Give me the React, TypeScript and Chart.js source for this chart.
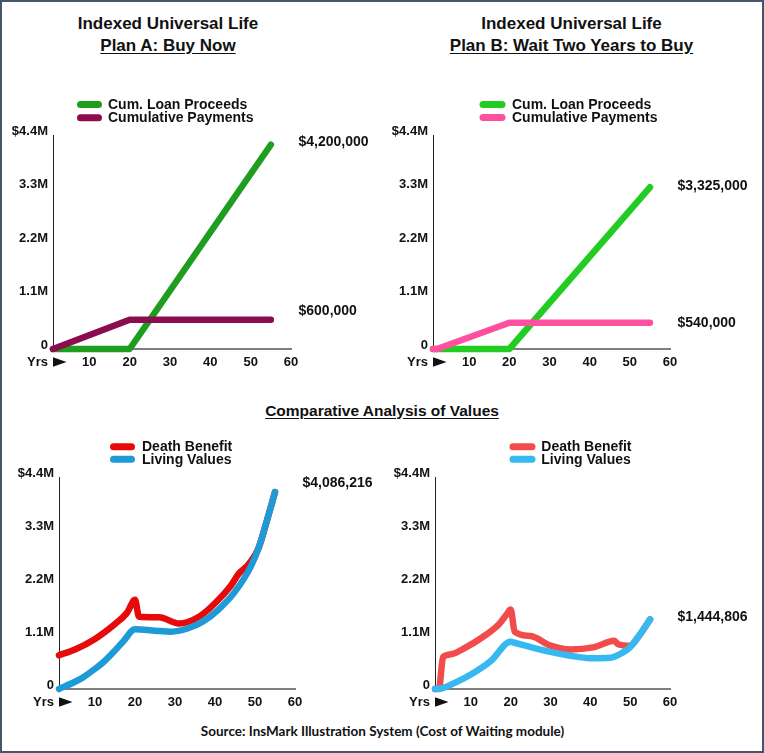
import React, { useEffect, useRef } from 'react';
import { Chart, registerables } from 'chart.js';

Chart.register(...registerables);

const FONT = "'Liberation Sans', Arial, sans-serif";
const TEXT = '#111111';

// ---- Text ----
const TITLE_MAIN = 'Indexed Universal Life';
const PLAN_A = 'Plan A: Buy Now';
const PLAN_B = 'Plan B: Wait Two Years to Buy';
const MID_TITLE = 'Comparative Analysis of Values';
const SOURCE = 'Source: InsMark Illustration System (Cost of Waiting module)';
const YRS_LABEL = 'Yrs';

// ---- Axes ----
const X_MIN = 1;
const X_MAX = 60;
const X_TICKS = [10, 20, 30, 40, 50, 60];
const Y_MAX = 4400000;
const Y_TICK_VALUES = [0, 1100000, 2200000, 3300000, 4400000];
const Y_TICK_LABELS = ['0', '1.1M', '2.2M', '3.3M', '$4.4M'];

// ---- Plan A: Buy Now ----
const A_LOAN_YEARS = [1, 20, 55];
const A_LOAN = [0, 0, 4200000];
const A_PAY_YEARS = [1, 20, 55];
const A_PAY = [0, 600000, 600000];

// ---- Plan B: Wait Two Years ----
const B_LOAN_YEARS = [1, 20, 55];
const B_LOAN = [0, 0, 3325000];
const B_PAY_YEARS = [1, 2, 20, 55];
const B_PAY = [0, 0, 540000, 540000];

// ---- Comparative: Plan A ----
const CA_DB_YEARS = [1, 5, 10, 15, 18, 20, 21, 26, 31, 36, 40, 44, 46, 48, 50, 51, 53, 55];
const CA_DB = [700000, 820000, 1040000, 1350000, 1580000, 1850000, 1500000, 1490000, 1360000, 1500000, 1780000, 2150000, 2400000, 2550000, 2780000, 2950000, 3500000, 4086216];
const CA_LV_YEARS = [1, 5, 7, 10, 12, 15, 17, 20, 25, 29, 33, 37, 41, 45, 49, 51, 53, 55];
const CA_LV = [0, 150000, 240000, 420000, 550000, 800000, 980000, 1240000, 1210000, 1190000, 1250000, 1400000, 1660000, 2020000, 2550000, 2950000, 3500000, 4086216];

// ---- Comparative: Plan B ----
const CB_DB_YEARS = [1, 2, 3, 5, 8, 13, 17, 19, 20, 21, 25, 30, 35, 41, 46, 47, 50, 52, 55];
const CB_DB = [0, 0, 660000, 720000, 830000, 1080000, 1340000, 1550000, 1650000, 1190000, 1100000, 900000, 820000, 870000, 1000000, 930000, 900000, 1080000, 1444806];
const CB_LV_YEARS = [1, 3, 5, 10, 15, 20, 21, 25, 30, 35, 40, 45, 48, 50, 52, 55];
const CB_LV = [0, 20000, 90000, 300000, 580000, 980000, 960000, 870000, 770000, 690000, 640000, 650000, 750000, 870000, 1080000, 1444806];

type Series = {
  label: string;
  years: number[];
  values: number[];
  color: string;
  endLabel: boolean;
  endDy: number;
};

type Panel = {
  key: string;
  left: number;
  top: number;
  width: number;
  height: number;
  area: { left: number; right: number; top: number; bottom: number };
  swatch: [number, number];
  legendTextX: number;
  legendRows: [number, number];
  smooth: boolean;
  lineWidth: number;
  series: Series[];
};

const PANELS: Panel[] = [
  {
    key: 'tl', left: 0, top: 80, width: 382, height: 300,
    area: { left: 53, right: 291, top: 55, bottom: 269 },
    swatch: [80.5, 98.5], legendTextX: 108, legendRows: [24.5, 37.7],
    smooth: false, lineWidth: 6.5,
    series: [
      { label: 'Cum. Loan Proceeds', years: A_LOAN_YEARS, values: A_LOAN, color: '#1f9d1f', endLabel: true, endDy: -3 },
      { label: 'Cumulative Payments', years: A_PAY_YEARS, values: A_PAY, color: '#8b0d4f', endLabel: true, endDy: -9 },
    ],
  },
  {
    key: 'tr', left: 382, top: 80, width: 382, height: 300,
    area: { left: 51, right: 288, top: 55, bottom: 269 },
    swatch: [101, 120], legendTextX: 130, legendRows: [24.5, 37.5],
    smooth: false, lineWidth: 6.5,
    series: [
      { label: 'Cum. Loan Proceeds', years: B_LOAN_YEARS, values: B_LOAN, color: '#22cc22', endLabel: true, endDy: -1 },
      { label: 'Cumulative Payments', years: B_PAY_YEARS, values: B_PAY, color: '#ff50a0', endLabel: true, endDy: 0 },
    ],
  },
  {
    key: 'bl', left: 0, top: 425, width: 382, height: 290,
    area: { left: 59, right: 295, top: 52, bottom: 264 },
    swatch: [113.5, 131.5], legendTextX: 142, legendRows: [21.7, 34.3],
    smooth: true, lineWidth: 6.5,
    series: [
      { label: 'Death Benefit', years: CA_DB_YEARS, values: CA_DB, color: '#e60a0a', endLabel: false, endDy: 0 },
      { label: 'Living Values', years: CA_LV_YEARS, values: CA_LV, color: '#1e9bd7', endLabel: true, endDy: -9 },
    ],
  },
  {
    key: 'br', left: 382, top: 425, width: 382, height: 290,
    area: { left: 53, right: 288, top: 52, bottom: 264 },
    swatch: [131, 150], legendTextX: 159.3, legendRows: [21.7, 34.3],
    smooth: true, lineWidth: 6.5,
    series: [
      { label: 'Death Benefit', years: CB_DB_YEARS, values: CB_DB, color: '#f24b4b', endLabel: false, endDy: 0 },
      { label: 'Living Values', years: CB_LV_YEARS, values: CB_LV, color: '#35b9f0', endLabel: true, endDy: -2 },
    ],
  },
];

const fmtMoney = (v: number) => '$' + Math.round(v).toLocaleString('en-US');

const decorPlugin = {
  id: 'decor',
  afterDraw(chart: any, _args: any, opts: any) {
    const p: Panel = opts.panel;
    if (!p) return;
    const ctx = chart.ctx as CanvasRenderingContext2D;
    const ca = chart.chartArea;
    ctx.save();
    // legend
    p.series.forEach((s, i) => {
      const y = p.legendRows[i];
      ctx.strokeStyle = s.color;
      ctx.lineWidth = 7;
      ctx.lineCap = 'round';
      ctx.beginPath();
      ctx.moveTo(p.swatch[0], y);
      ctx.lineTo(p.swatch[1], y);
      ctx.stroke();
      ctx.fillStyle = TEXT;
      ctx.font = `bold 14px ${FONT}`;
      ctx.textAlign = 'left';
      ctx.textBaseline = 'middle';
      ctx.fillText(s.label, p.legendTextX, y + 0.5);
    });
    // end-value labels
    const ys = chart.scales.y;
    ctx.font = `bold 14px ${FONT}`;
    ctx.fillStyle = TEXT;
    ctx.textAlign = 'left';
    ctx.textBaseline = 'middle';
    p.series.forEach((s) => {
      if (!s.endLabel) return;
      const v = s.values[s.values.length - 1];
      const py = ys.getPixelForValue(v) + s.endDy;
      ctx.fillText(fmtMoney(v), ca.right + 7.5, py);
    });
    // "Yrs ▶"
    const ty = ca.bottom + 13;
    ctx.font = `bold 13px ${FONT}`;
    ctx.textAlign = 'right';
    ctx.fillText(YRS_LABEL, ca.left - 5, ty);
    ctx.beginPath();
    ctx.moveTo(ca.left, ty - 4.8);
    ctx.lineTo(ca.left + 13.5, ty);
    ctx.lineTo(ca.left, ty + 4.8);
    ctx.closePath();
    ctx.fill();
    ctx.restore();
  },
};

function PanelChart({ p }: { p: Panel }) {
  const ref = useRef<HTMLCanvasElement | null>(null);
  useEffect(() => {
    if (!ref.current) return;
    const tickFont = { family: FONT, size: 13, weight: 'bold' as const };
    const chart = new Chart(ref.current, {
      type: 'line',
      data: {
        datasets: p.series.map((s, i) => ({
          label: s.label,
          data: s.years.map((yr, j) => ({ x: yr, y: s.values[j] })),
          borderColor: s.color,
          backgroundColor: s.color,
          borderWidth: p.lineWidth,
          borderCapStyle: 'round' as const,
          borderJoinStyle: 'round' as const,
          pointRadius: 0,
          pointHoverRadius: 0,
          fill: false,
          tension: 0,
          cubicInterpolationMode: p.smooth ? ('monotone' as const) : ('default' as const),
          clip: false as any,
          order: p.series.length - 1 - i,
        })),
      },
      options: {
        animation: false,
        responsive: false,
        maintainAspectRatio: false,
        devicePixelRatio: 1,
        events: [],
        layout: {
          padding: {
            left: 0,
            top: p.area.top,
            right: p.width - p.area.right,
            bottom: 0,
          },
        },
        plugins: {
          legend: { display: false },
          tooltip: { enabled: false },
          title: { display: false },
          decor: { panel: p },
        } as any,
        scales: {
          x: {
            type: 'linear',
            min: X_MIN,
            max: X_MAX,
            afterBuildTicks: (s: any) => {
              s.ticks = X_TICKS.map((v) => ({ value: v }));
            },
            afterFit: (s: any) => {
              s.height = p.height - p.area.bottom;
            },
            ticks: {
              callback: (v: any) => String(v),
              padding: 6,
              font: tickFont,
              color: TEXT,
              maxRotation: 0,
              autoSkip: false,
            },
            grid: { display: false, drawTicks: false },
            border: { display: true, color: '#7f7f7f', width: 2 },
          },
          y: {
            type: 'linear',
            min: 0,
            max: Y_MAX,
            afterBuildTicks: (s: any) => {
              s.ticks = Y_TICK_VALUES.map((v) => ({ value: v }));
            },
            afterFit: (s: any) => {
              s.width = p.area.left;
            },
            ticks: {
              callback: (v: any) => {
                const idx = Y_TICK_VALUES.indexOf(Number(v));
                return idx >= 0 ? Y_TICK_LABELS[idx] : '';
              },
              padding: 5,
              labelOffset: -4,
              font: tickFont,
              color: TEXT,
              autoSkip: false,
            },
            grid: { display: false, drawTicks: false },
            border: { display: true, color: '#222222', width: 1 },
          },
        },
      } as any,
      plugins: [decorPlugin],
    });
    return () => chart.destroy();
  }, [p]);
  return (
    <canvas
      ref={ref}
      width={p.width}
      height={p.height}
      style={{ position: 'absolute', left: p.left, top: p.top, width: p.width, height: p.height }}
    />
  );
}

function Label({ text, cx, cy, size, underline, family }: { text: string; cx: number; cy: number; size: number; underline?: boolean; family?: string }) {
  return (
    <div
      style={{
        position: 'absolute',
        left: cx - 300,
        width: 600,
        top: cy - 12,
        height: 24,
        lineHeight: '24px',
        textAlign: 'center',
        fontFamily: family || FONT,
        fontWeight: 'bold',
        fontSize: size,
        color: TEXT,
        whiteSpace: 'nowrap',
        textDecoration: underline ? 'underline' : 'none',
        textUnderlineOffset: '2px',
      }}
    >
      {text}
    </div>
  );
}

export default function App() {
  return (
    <div
      style={{
        position: 'absolute',
        left: 0,
        top: 0,
        width: 764,
        height: 753,
        background: '#ffffff',
        overflow: 'hidden',
      }}
    >
      <Label text={TITLE_MAIN} cx={168} cy={24} size={17} />
      <Label text={PLAN_A} cx={168} cy={46} size={17} underline />
      <Label text={TITLE_MAIN} cx={571.5} cy={24} size={17} />
      <Label text={PLAN_B} cx={571.5} cy={46} size={17} underline />
      <Label text={MID_TITLE} cx={382} cy={410.5} size={15.5} underline />
      <Label text={SOURCE} cx={382.5} cy={730.5} size={13.5} family="Lato, 'Open Sans', sans-serif" />
      {PANELS.map((p) => (
        <PanelChart key={p.key} p={p} />
      ))}
      <div
        style={{
          position: 'absolute',
          left: 0,
          top: 0,
          width: 764,
          height: 753,
          boxSizing: 'border-box',
          border: '2px solid #44546a',
          pointerEvents: 'none',
        }}
      />
    </div>
  );
}
